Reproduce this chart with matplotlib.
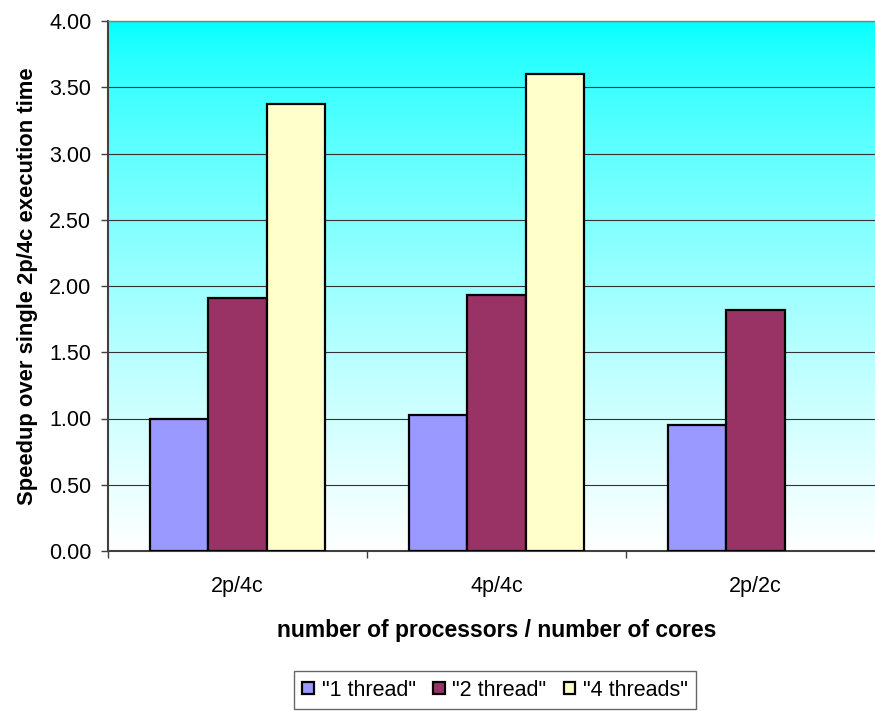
import numpy as np
import matplotlib
matplotlib.use("Agg")
import matplotlib.pyplot as plt
from matplotlib.ticker import FormatStrFormatter, MultipleLocator

categories = ["2p/4c", "4p/4c", "2p/2c"]
series_names = ['"1 thread"', '"2 thread"', '"4 threads"']
one_thread = [1.00, 1.03, 0.95]
two_thread = [1.91, 1.93, 1.82]
four_threads = [3.37, 3.60, np.nan]
colors = ["#9999FF", "#993366", "#FFFFCC"]

plt.rcParams['font.family'] = ['Liberation Sans', 'DejaVu Sans']

fig = plt.figure(figsize=(8.75, 7.11), dpi=100)
ax = fig.add_axes([108/875, 1-551/711, 777/875, 530/711])

# gradient background: cyan at top fading to white at bottom
t = np.linspace(0, 1, 512).reshape(-1, 1)
rgb = np.zeros((512, 1, 3))
rgb[..., 0] = t ** 0.7
rgb[..., 1] = 1.0
rgb[..., 2] = 1.0
ax.imshow(rgb, extent=[-0.5, 2.5, 0, 4], aspect='auto', origin='upper', zorder=0)

x = np.arange(len(categories))
w = 0.224
for i, (vals, name, c) in enumerate(zip([one_thread, two_thread, four_threads], series_names, colors)):
    ax.bar(x + (i - 1) * w, vals, w, color=c, edgecolor='black', linewidth=1.6, label=name, zorder=3)

ax.set_xlim(-0.5, 2.5)
ax.set_ylim(0, 4)
ax.yaxis.set_major_locator(MultipleLocator(0.5))
ax.yaxis.set_major_formatter(FormatStrFormatter('%.2f'))
ax.yaxis.grid(True, color='#333333', linewidth=0.8)
for ln in ax.get_ygridlines():
    ln.set_zorder(1)

ax.set_xticks(x)
ax.set_xticklabels(categories)
ax.set_xticks(np.arange(-0.5, 3.0, 1.0), minor=True)
ax.tick_params(axis='x', which='major', length=0, labelsize=15.5, pad=18)
ax.tick_params(axis='x', which='minor', length=5, width=1, color='#404040', direction='out')
ax.tick_params(axis='y', length=5, width=1, color='#404040', labelsize=15.5, pad=7)

for s in ['left', 'bottom']:
    ax.spines[s].set_color('#404040')
    ax.spines[s].set_linewidth(1.5)
ax.spines['top'].set_color('#808080')
ax.spines['top'].set_linewidth(1.0)
ax.spines['right'].set_visible(False)

ax.set_ylabel("Speedup over single 2p/4c execution time", fontsize=15.8, fontweight='bold', labelpad=8)
ax.set_xlabel("number of processors / number of cores", fontsize=16.5, fontweight='bold', labelpad=16)

leg = fig.legend(loc='upper center', bbox_to_anchor=(495/875, 1-671/711), ncol=3, fontsize=15.5,
                 frameon=True, fancybox=False, edgecolor='#404040', handlelength=0.55, handleheight=0.55,
                 handletextpad=0.35, columnspacing=0.8, borderpad=0.4, borderaxespad=0)
leg.get_frame().set_linewidth(1.0)

fig.savefig("out.png", dpi=100)
